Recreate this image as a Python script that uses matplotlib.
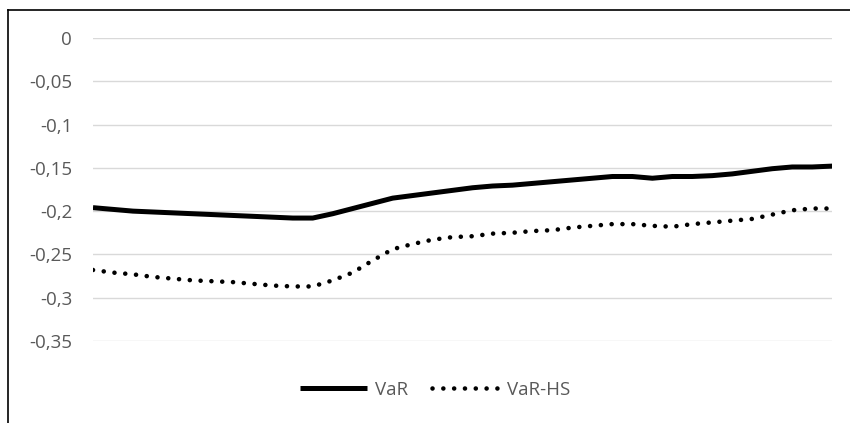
import numpy as np
import matplotlib
matplotlib.use("Agg")
import matplotlib.pyplot as plt
from matplotlib.lines import Line2D
from matplotlib.ticker import FuncFormatter

plt.rcParams['font.family'] = ['Open Sans', 'DejaVu Sans']

# VaR series (daily estimates)
var = [-0.196, -0.198, -0.200, -0.201, -0.202, -0.203, -0.204, -0.205,
       -0.206, -0.207, -0.208, -0.208, -0.203, -0.197, -0.191, -0.185,
       -0.182, -0.179, -0.176, -0.173, -0.171, -0.170, -0.168, -0.166,
       -0.164, -0.162, -0.160, -0.160, -0.162, -0.160, -0.160, -0.159,
       -0.157, -0.154, -0.151, -0.149, -0.149, -0.148]
# VaR by historical simulation
var_hs = [-0.268, -0.271, -0.273, -0.276, -0.278, -0.280, -0.281, -0.282,
          -0.284, -0.286, -0.287, -0.287, -0.280, -0.271, -0.257, -0.244,
          -0.238, -0.233, -0.230, -0.229, -0.226, -0.225, -0.223, -0.222,
          -0.219, -0.217, -0.215, -0.215, -0.217, -0.218, -0.215, -0.213,
          -0.211, -0.209, -0.204, -0.199, -0.197, -0.197]
yticks = [0, -0.05, -0.1, -0.15, -0.2, -0.25, -0.3, -0.35]

x = np.arange(len(var))

fig = plt.figure(figsize=(8.5, 4.23), dpi=100)
ax = fig.add_axes([0.1094, 0.1939, 0.8696, 0.7163])

ax.plot(x, var, color='black', lw=3.6, label='VaR', solid_capstyle='butt')
ax.plot(x, var_hs, color='black', lw=3.3, linestyle=(0, (0.01, 2.35)),
        dash_capstyle='round', label='VaR-HS')

ax.set_xlim(0, len(var) - 1)
ax.set_ylim(-0.35, 0)
ax.set_yticks(yticks)
ax.yaxis.set_major_formatter(FuncFormatter(
    lambda v, p: '0' if abs(v) < 1e-9 else ('%g' % v).replace('.', ',')))
ax.set_xticks([])
ax.grid(axis='y', color='#d9d9d9', lw=1)
ax.set_axisbelow(True)
for s in ax.spines.values():
    s.set_visible(False)
ax.tick_params(axis='y', length=0, pad=15, labelsize=13.5, labelcolor='#595959')

leg = fig.legend(loc='center', bbox_to_anchor=(0.512, 0.078), ncol=2,
                 frameon=False, fontsize=13.5, handlelength=3.6,
                 columnspacing=1.3, handletextpad=0.4)
for t in leg.get_texts():
    t.set_color('#595959')

# outer chart border (left and top edges)
fig.add_artist(Line2D([7.5 / 850, 7.5 / 850], [0, 1 - 10.5 / 423],
                      transform=fig.transFigure, color='black', lw=1.2))
fig.add_artist(Line2D([7.5 / 850, 1], [1 - 10.5 / 423, 1 - 10.5 / 423],
                      transform=fig.transFigure, color='black', lw=1.2))

fig.savefig('out.png', dpi=100)
